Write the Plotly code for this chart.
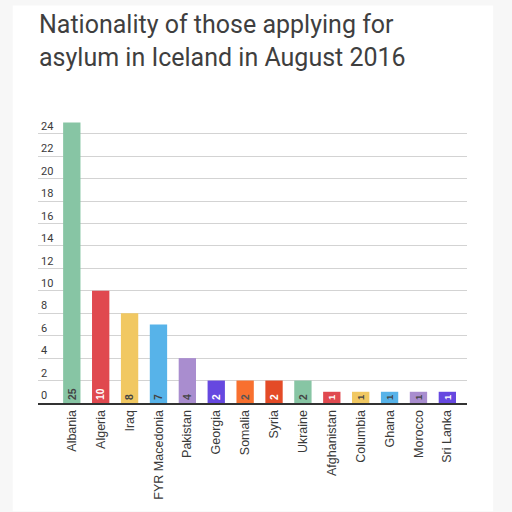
import plotly.graph_objects as go

# Asylum applications in Iceland, August 2016, by nationality
countries = ['Albania', 'Algeria', 'Iraq', 'FYR Macedonia', 'Pakistan', 'Georgia',
             'Somalia', 'Syria', 'Ukraine', 'Afghanistan', 'Columbia', 'Ghana',
             'Morocco', 'Sri Lanka']
applicants = [25, 10, 8, 7, 4, 2, 2, 2, 2, 1, 1, 1, 1, 1]

palette = ['#87c5a4', '#e0494f', '#f1c862', '#57b3e9', '#a98dcf', '#6648e0',
           '#f8702f', '#e44b27']
bar_colors = [palette[i % len(palette)] for i in range(len(countries))]
label_colors = ['#444', 'white', '#444', '#444', '#444', 'white', '#555', 'white',
                '#444', 'white', '#444', '#444', '#444', 'white']

fig = go.Figure(go.Bar(
    x=countries,
    y=applicants,
    marker=dict(color=bar_colors, line=dict(width=0)),
    text=applicants,
    textposition='inside',
    insidetextanchor='start',
    textangle=-90,
    textfont=dict(family='Arial', size=11, color=label_colors, weight='bold'),
    hoverinfo='x+y',
))

fig.update_layout(
    width=512, height=512,
    margin=dict(l=38, r=45, t=118, b=109),
    paper_bgcolor='#f7f7f7',
    plot_bgcolor='white',
    showlegend=False,
    bargap=0.4,
    title=dict(
        text='Nationality of those applying for<br>asylum in Iceland in August 2016',
        font=dict(family='Roboto', size=25, color='#3f3f3f'),
        x=39 / 512, xanchor='left', xref='container',
        y=1 - 33 / 512, yanchor='top', yref='container',
    ),
    # white card behind the chart
    shapes=[dict(type='rect', xref='paper', yref='paper', layer='below',
                 x0=-0.059, x1=1.061, y0=-0.38, y1=1.395,
                 fillcolor='white', line=dict(width=0))],
)

fig.update_xaxes(
    range=[-1.17, 13.68],
    tickangle=-90,
    tickfont=dict(family='Arial', size=12.5, color='#3a3a3a'),
    showline=True, linecolor='#333', linewidth=2,
    ticks='', showgrid=False,
)

fig.update_yaxes(
    range=[0, 25.4],
    tickvals=list(range(0, 25, 2)),
    ticklabelposition='inside top',
    tickfont=dict(family='Roboto', size=11, color='#3a3a3a'),
    gridcolor='#d3d3d3', gridwidth=1,
    zeroline=False, ticks='',
)

fig.write_html('out.html', config={'displayModeBar': False},
               post_script="document.body.style.margin='0';")
